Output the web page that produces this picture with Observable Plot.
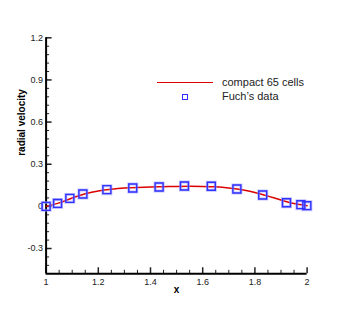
<!DOCTYPE html>
<html>
<head>
<meta charset="utf-8">
<script src="https://cdn.jsdelivr.net/npm/d3@7"></script>
<script src="https://cdn.jsdelivr.net/npm/@observablehq/plot@0.6"></script>
<style>
  html, body { margin: 0; padding: 0; background: #fff; }
  #wrap { position: relative; width: 349px; height: 310px; font-family: "Liberation Sans", Arial, sans-serif; }
  .leg { position: absolute; font-size: 11px; color: #222; line-height: 1; white-space: nowrap; }
</style>
</head>
<body>
<div id="wrap"></div>
<script>
// Computed solution (compact 65 cells)
const lineX = [1.0, 1.05, 1.1, 1.15, 1.2, 1.25, 1.3, 1.35, 1.4, 1.45, 1.5, 1.55, 1.6, 1.65, 1.7, 1.75, 1.8, 1.85, 1.9, 1.95, 2.0];
const lineY = [0.0, 0.025, 0.060, 0.090, 0.110, 0.122, 0.130, 0.135, 0.138, 0.140, 0.142, 0.143, 0.142, 0.139, 0.131, 0.118, 0.099, 0.073, 0.045, 0.020, 0.005];
// Fuch's data
const fuchX = [1.0, 1.044, 1.091, 1.141, 1.233, 1.332, 1.433, 1.530, 1.633, 1.731, 1.830, 1.921, 1.976, 1.999];
const fuchY = [0.0, 0.021, 0.057, 0.088, 0.119, 0.131, 0.138, 0.145, 0.143, 0.124, 0.081, 0.026, 0.012, 0.005];
// Axes
const xMajor = [1, 1.2, 1.4, 1.6, 1.8, 2];
const yMajor = [-0.3, 0, 0.3, 0.6, 0.9, 1.2];
const xMinor = d3.range(1, 2.0001, 0.05).map(v => +v.toFixed(2)).filter(v => !xMajor.some(m => Math.abs(m - v) < 1e-6));
const yMinor = d3.range(-0.42, 1.2001, 0.06).map(v => +v.toFixed(2)).filter(v => !yMajor.some(m => Math.abs(m - v) < 1e-6));
const seriesNames = ["compact 65 cells", "Fuch\u2019s data"];

const lineData = lineX.map((x, i) => ({x, y: lineY[i]}));
const fuchData = fuchX.map((x, i) => ({x, y: fuchY[i]}));

const fmtX = d => String(d);
const fmtY = d => d === 0 ? "0" : d.toFixed(1);

const chart = Plot.plot({
  width: 349,
  height: 310,
  marginLeft: 45.6,
  marginRight: 42.4,
  marginTop: 37.3,
  marginBottom: 36.7,
  style: {fontFamily: "'Liberation Sans', Arial, sans-serif", fontSize: "9px", color: "#222", background: "#fff"},
  x: {domain: [1, 2]},
  y: {domain: [-0.48, 1.2]},
  marks: [
    // major ticks pointing inward
    Plot.axisX(xMajor, {tickSize: -6, tickFormat: () => "", strokeWidth: 1.5, label: null}),
    Plot.axisX(xMinor, {tickSize: -3.5, tickFormat: () => "", label: null}),
    Plot.axisX(xMajor, {tickSize: 0, tickPadding: 5, tickFormat: fmtX, label: null}),
    Plot.axisY(yMajor, {tickSize: -6, tickFormat: () => "", strokeWidth: 1.5, label: null}),
    Plot.axisY(yMinor, {tickSize: -3.5, tickFormat: () => "", label: null}),
    Plot.axisY(yMajor, {tickSize: 0, tickPadding: 3, tickFormat: fmtY, label: null}),
    Plot.ruleX([1], {stroke: "#000", strokeWidth: 2}),
    Plot.ruleY([-0.48], {stroke: "#000", strokeWidth: 2}),
    Plot.line(lineData, {x: "x", y: "y", stroke: "#dd0000", strokeWidth: 1.5, curve: "natural"}),
    Plot.dot(fuchData, {x: "x", y: "y", symbol: "square", r: 4.5, stroke: "#9a9aff", strokeWidth: 3, fill: "none", strokeOpacity: 0.6}),
    Plot.dot(fuchData, {x: "x", y: "y", symbol: "square", r: 4.5, stroke: "#3030ff", strokeWidth: 1.4, fill: "none"}),
    Plot.text(["x"], {frameAnchor: "bottom", dy: 19, text: d => d, fontWeight: "bold", fontSize: 10, fill: "#000"}),
    Plot.text(["radial velocity"], {frameAnchor: "left", dx: -24, dy: 0, rotate: -90, text: d => d, fontWeight: "bold", fontSize: 10, fill: "#000"})
  ]
});

const wrap = document.getElementById("wrap");
wrap.appendChild(chart);

// Legend
const l1 = document.createElement("div");
l1.className = "leg";
l1.style.left = "157px"; l1.style.top = "77px";
l1.innerHTML = '<span style="display:inline-block;width:56px;height:0;border-top:1.5px solid #dd0000;vertical-align:middle;margin-right:9px;margin-top:-1px"></span>' + seriesNames[0];
wrap.appendChild(l1);
const l2 = document.createElement("div");
l2.className = "leg";
l2.style.left = "157px"; l2.style.top = "91px";
l2.innerHTML = '<span style="display:inline-block;width:56px;height:11px;position:relative;vertical-align:middle;margin-right:9px;margin-top:-2px"><span style="position:absolute;left:24.5px;top:3px;width:4px;height:4px;border:1.3px solid #3030ff"></span></span>' + seriesNames[1];
wrap.appendChild(l2);
</script>
</body>
</html>
